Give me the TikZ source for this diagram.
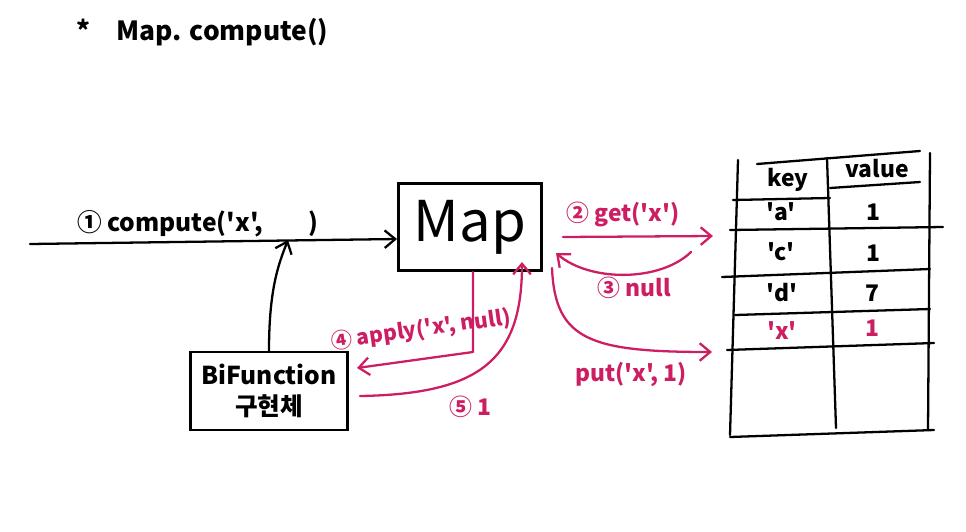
\documentclass[tikz,border=0pt]{standalone}
\usepackage{fontspec}
\setmainfont{Noto Sans CJK KR}[Ligatures=TeXOff]
\usetikzlibrary{arrows.meta}
\definecolor{penpink}{RGB}{205,30,100}

\begin{document}
\begin{tikzpicture}[x=0.02cm, y=-0.02cm,
    ink/.style={line width=1.3pt, line cap=round, line join=round},
    tip/.style={-{Straight Barb[length=6pt,width=10pt]}},
    redink/.style={ink, tip, penpink},
    label/.style={font=\fontsize{13}{15}\selectfont\bfseries, inner sep=1pt},
    box/.style={draw, line width=1.6pt}]

    \useasboundingbox (0,0) rectangle (966,531);

    % ==========================================
    % TITLE
    % ==========================================
    \node[label, font=\fontsize{15}{17}\selectfont\bfseries, anchor=west] (title) at (74,32) {*\quad Map. compute()};

    % ==========================================
    % MAP AND BIFUNCTION BOXES
    % ==========================================
    \node[box, minimum width=2.86cm, minimum height=1.74cm, font=\fontsize{32}{34}\selectfont] (map) at (470,227) {Map};
    \node[box, minimum width=3.14cm, minimum height=1.56cm, align=center, font=\fontsize{14}{18}\selectfont\bfseries] (bif) at (269,391) {BiFunction\\구현체};

    % Call into Map.compute
    \coordinate (caller) at (30,244);
    \coordinate (mapin) at (397,239);
    \coordinate (slot) at (288,240);
    \draw[ink, tip] (caller) -- (mapin);
    \node[label, font=\fontsize{14}{16}\selectfont\bfseries, anchor=west] (call) at (75,224) {① compute('x',\hspace{0.9cm})};
    \draw[ink, tip] (bif.north) .. controls +(0,-60) and +(-10,25) .. (slot);

    % ==========================================
    % PINK ARROWS: Map <-> table, Map <-> BiFunction
    % ==========================================
    \coordinate (getS) at (563,237);
    \coordinate (getE) at (713,236);
    \coordinate (nullS) at (691,252);
    \coordinate (nullE) at (556,253);
    \coordinate (putS) at (552,268);
    \coordinate (putE) at (712,352);
    \coordinate (applyM) at (473,352);
    \coordinate (applyE) at (357,368);
    \coordinate (retS) at (360,396);
    \coordinate (retE) at (522,262);

    \draw[redink] (getS) -- (getE);
    \node[label, penpink] (get) at (623,214) {② get('x')};

    \draw[redink] (nullS) .. controls (660,282) and (590,282) .. (nullE);
    \node[label, penpink] (null) at (634,288) {③ null};

    \draw[redink] (putS) .. controls (555,340) and (590,352) .. (putE);
    \node[label, penpink] (put) at (631,374) {put('x', 1)};

    \draw[redink] (map.south -| applyM) -- (applyM) -- (applyE);
    \node[label, penpink, font=\fontsize{12}{14}\selectfont\bfseries, rotate=8] (apply) at (421,330) {④ apply('x', null)};

    \draw[redink] (retS) .. controls (480,394) and (522,360) .. (retE);
    \node[label, penpink] (ret) at (470,407) {⑤ 1};

    % ==========================================
    % KEY / VALUE TABLE
    % ==========================================
    % verticals
    \draw[ink] (738,160) -- (730,435);
    \draw[ink] (827,158) -- (836,428);
    \draw[ink] (930,153) -- (928,430);
    % rows
    \draw[ink] (757,164) -- (920,151);
    \draw[ink] (733,200) -- (830,198);
    \draw[ink] (830,188) -- (920,182);
    \draw[ink] (730,230) -- (943,227);
    \draw[ink] (722,277) -- (930,269);
    \draw[ink] (735,315) -- (930,309);
    \draw[ink] (727,350) -- (934,343);
    \draw[ink] (730,437) -- (934,430);

    \node[label] (keyhead) at (788,180) {key};
    \node[label] (valhead) at (877,169) {value};
    \node[label] (ka) at (781,212) {'a'};
    \node[label] (va) at (873,212) {1};
    \node[label] (kc) at (781,252) {'c'};
    \node[label] (vc) at (873,253) {1};
    \node[label] (kd) at (782,293) {'d'};
    \node[label] (vd) at (872,293) {7};
    \node[label, penpink] (kx) at (782,331) {'x'};
    \node[label, penpink] (vx) at (872,328) {1};

\end{tikzpicture}
\end{document}
